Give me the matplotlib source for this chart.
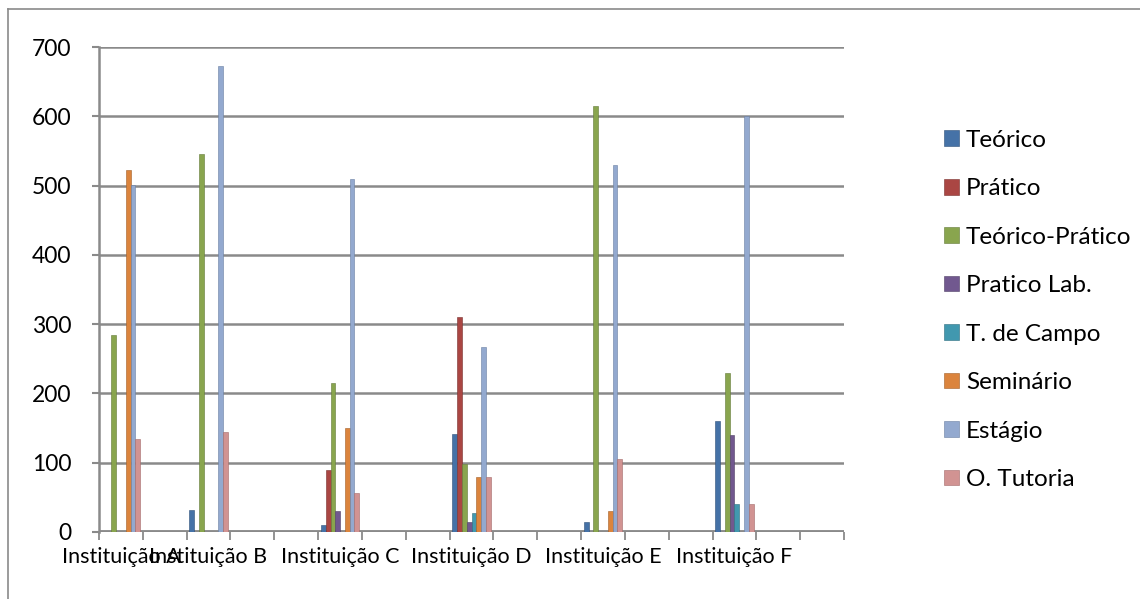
import numpy as np
import matplotlib
matplotlib.use("Agg")
import matplotlib.pyplot as plt
from matplotlib.lines import Line2D

plt.rcParams['font.family'] = ['Lato', 'DejaVu Sans']

# categories as in the source sheet (blank rows kept as empty slots)
categories = ['Instituição A', '', 'Instituição B', '', '', 'Instituição C', '', '',
              'Instituição D', '', '', 'Instituição E', '', '', 'Instituição F', '', '']

series_names = ['Teórico', 'Prático', 'Teórico-Prático', 'Pratico Lab.',
                'T. de Campo', 'Seminário', 'Estágio', 'O. Tutoria']

teorico         = [0, 0, 32, 0, 0, 10, 0, 0, 142, 0, 0, 15, 0, 0, 160, 0, 0]
pratico         = [0, 0, 0, 0, 0, 90, 0, 0, 310, 0, 0, 0, 0, 0, 0, 0, 0]
teorico_pratico = [285, 0, 545, 0, 0, 215, 0, 0, 98, 0, 0, 615, 0, 0, 230, 0, 0]
pratico_lab     = [0, 0, 0, 0, 0, 30, 0, 0, 15, 0, 0, 0, 0, 0, 140, 0, 0]
t_campo         = [0, 0, 0, 0, 0, 0, 0, 0, 27, 0, 0, 0, 0, 0, 40, 0, 0]
seminario       = [523, 0, 0, 0, 0, 150, 0, 0, 80, 0, 0, 30, 0, 0, 0, 0, 0]
estagio         = [501, 0, 672, 0, 0, 510, 0, 0, 267, 0, 0, 530, 0, 0, 600, 0, 0]
tutoria         = [134, 0, 144, 0, 0, 56, 0, 0, 80, 0, 0, 106, 0, 0, 40, 0, 0]

all_series = [teorico, pratico, teorico_pratico, pratico_lab,
              t_campo, seminario, estagio, tutoria]
colors = ['#4572A7', '#AA4643', '#89A54E', '#71588F',
          '#4198AF', '#DB843D', '#93A9CF', '#D19392']
edges = ['#2f5079', '#7a302e', '#627a37', '#503e66',
         '#2c6c7e', '#a45f27', '#6a7fa3', '#a36a69']

W, H = 1140, 599
fig = plt.figure(figsize=(W / 100, H / 100), dpi=100)
ax = fig.add_axes([99 / W, (H - 532) / H, (844 - 99) / W, (532 - 47) / H])

n = len(categories)
x = np.arange(n)
bw = 0.109
start = 0.065
for i, (vals, name) in enumerate(zip(all_series, series_names)):
    ax.bar(x + start + i * bw, vals, width=bw, align='edge', color=colors[i],
           edgecolor=edges[i], linewidth=0.4, label=name, zorder=3)

ax.set_xlim(0, n)
ax.set_ylim(0, 700)

grid_c = '#8a8a8a'
for yv in range(100, 701, 100):
    ax.axhline(yv, color=grid_c, lw=1.8, zorder=1)
ax.axhline(0, color=grid_c, lw=3.5, zorder=2, solid_capstyle='butt')

for s in ['top', 'right', 'bottom']:
    ax.spines[s].set_visible(False)
ax.spines['left'].set_color(grid_c)
ax.spines['left'].set_linewidth(1.8)

ax.set_yticks(range(0, 701, 100))
ax.tick_params(axis='y', direction='out', length=5, width=1.5, color=grid_c,
               pad=15, labelsize=16.5, labelcolor='black')

ax.set_xticks(np.arange(0, n + 1))
ax.set_xticklabels([])
ax.tick_params(axis='x', which='major', direction='out', length=6, width=1.3,
               color=grid_c)
ax.set_xticks(x + 0.5, minor=True)
ax.set_xticklabels(categories, minor=True)
ax.tick_params(axis='x', which='minor', length=0, pad=11, labelsize=15.5,
               labelcolor='black')

fig.legend(loc='upper left', bbox_to_anchor=(934 / W, 1 - 120 / H),
           frameon=False, fontsize=17.5, labelspacing=1.13, handlelength=0.62,
           handleheight=0.62, handletextpad=0.3, borderaxespad=0)

# chart area border (top and left edges visible)
fig.add_artist(Line2D([8 / W, 1.0], [1 - 9 / H, 1 - 9 / H], color='#8a8a8a', lw=1.2))
fig.add_artist(Line2D([8 / W, 8 / W], [0, 1 - 9 / H], color='#8a8a8a', lw=1.2))

fig.savefig('out.png', dpi=100)
